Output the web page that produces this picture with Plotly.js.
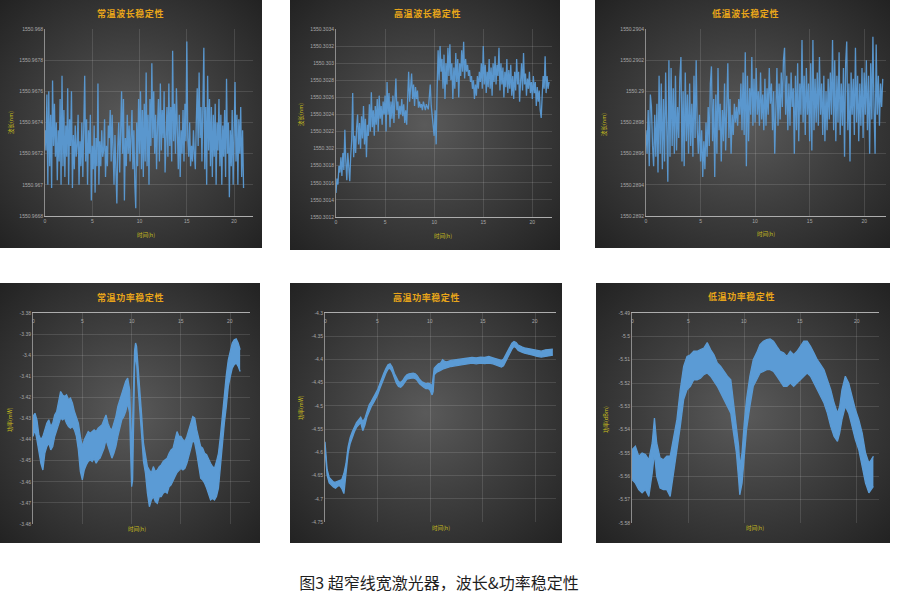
<!DOCTYPE html>
<html>
<head>
<meta charset="utf-8">
<script src="https://cdn.plot.ly/plotly-3.0.1.min.js"></script>
<style>
  html, body { margin:0; padding:0; background:#ffffff; }
  body { width:897px; height:602px; position:relative; overflow:hidden; font-family:"Noto Sans CJK SC", "Noto Sans", sans-serif; }
  .panel { position:absolute; background: radial-gradient(ellipse farthest-corner at 50% 50%, #5a5a5a 0%, #3e3e3e 48%, #222222 100%); }
  #caption { position:absolute; left:0; width:878px; top:570px; text-align:center; font-size:16px; color:#1e1e1e; font-family:"Noto Sans CJK SC", sans-serif; }
</style>
</head>
<body>
<div id="p1" class="panel" style="left:0px;top:0px;width:262px;height:248px"></div>
<div id="p2" class="panel" style="left:290px;top:0px;width:270px;height:250px"></div>
<div id="p3" class="panel" style="left:595px;top:0px;width:295px;height:248px"></div>
<div id="p4" class="panel" style="left:0px;top:283px;width:260px;height:260px"></div>
<div id="p5" class="panel" style="left:290px;top:283px;width:272px;height:260px"></div>
<div id="p6" class="panel" style="left:596px;top:283px;width:294px;height:260px"></div>
<div id="caption">图3 超窄线宽激光器，波长&amp;功率稳定性</div>
<script>
// ---------------- DATA ----------------
const X_TICKS = [0, 5, 10, 15, 20];
const X_TICK_TEXT = ["0", "5", "10", "15", "20"];

// sampling times (h) for the wavelength records
const HOURS_W = [
0,0.1,0.2,0.3,0.4,0.5,0.6,0.7,0.8,0.9,
1,1.1,1.2,1.3,1.4,1.5,1.6,1.7,1.8,1.9,
2,2.1,2.2,2.3,2.4,2.5,2.6,2.7,2.8,2.9,
3,3.1,3.2,3.3,3.4,3.5,3.6,3.7,3.8,3.9,
4,4.1,4.2,4.3,4.4,4.5,4.6,4.7,4.8,4.9,
5,5.1,5.2,5.3,5.4,5.5,5.6,5.7,5.8,5.9,
6,6.1,6.2,6.3,6.4,6.5,6.6,6.7,6.8,6.9,
7,7.1,7.2,7.3,7.4,7.5,7.6,7.7,7.8,7.9,
8,8.1,8.2,8.3,8.4,8.5,8.6,8.7,8.8,8.9,
9,9.1,9.2,9.3,9.4,9.5,9.6,9.7,9.8,9.9,
10,10.1,10.2,10.3,10.4,10.5,10.6,10.7,10.8,10.9,
11,11.1,11.2,11.3,11.4,11.5,11.6,11.7,11.8,11.9,
12,12.1,12.2,12.3,12.4,12.5,12.6,12.7,12.8,12.9,
13,13.1,13.2,13.3,13.4,13.5,13.6,13.7,13.8,13.9,
14,14.1,14.2,14.3,14.4,14.5,14.6,14.7,14.8,14.9,
15,15.1,15.2,15.3,15.4,15.5,15.6,15.7,15.8,15.9,
16,16.1,16.2,16.3,16.4,16.5,16.6,16.7,16.8,16.9,
17,17.1,17.2,17.3,17.4,17.5,17.6,17.7,17.8,17.9,
18,18.1,18.2,18.3,18.4,18.5,18.6,18.7,18.8,18.9,
19,19.1,19.2,19.3,19.4,19.5,19.6,19.7,19.8,19.9,
20,20.1,20.2,20.3,20.4,20.5,20.6,20.7,20.8,20.9,
21,21.1,21.2,21.3,21.4,21.5,21.6,21.7];

// 常温波长 (nm)
const WL_ROOM = [
1550.96735,1550.96722,1550.96758,1550.96700,1550.96760,1550.96712,1550.96745,1550.96698,1550.96767,1550.96725,
1550.96752,1550.96718,1550.96740,1550.96703,1550.96735,1550.96715,1550.96755,1550.96700,1550.96770,1550.96712,
1550.96748,1550.96705,1550.96738,1550.96718,1550.96762,1550.96700,1550.96742,1550.96725,1550.96760,1550.96698,
1550.96732,1550.96710,1550.96738,1550.96718,1550.96725,1550.96745,1550.96700,1550.96728,1550.96712,1550.96740,
1550.96705,1550.96735,1550.96770,1550.96715,1550.96742,1550.96700,1550.96735,1550.96720,1550.96745,1550.96690,
1550.96725,1550.96710,1550.96738,1550.96695,1550.96730,1550.96712,1550.96765,1550.96700,1550.96728,1550.96712,
1550.96735,1550.96718,1550.96722,1550.96742,1550.96705,1550.96725,1550.96712,1550.96738,1550.96730,1550.96748,
1550.96715,1550.96745,1550.96720,1550.96700,1550.96732,1550.96715,1550.96688,1550.96725,1550.96740,1550.96708,
1550.96738,1550.96760,1550.96720,1550.96755,1550.96690,1550.96730,1550.96712,1550.96745,1550.96720,1550.96738,
1550.96715,1550.96728,1550.96748,1550.96710,1550.96735,1550.96700,1550.96685,1550.96740,1550.96712,1550.96755,
1550.96720,1550.96760,1550.96710,1550.96748,1550.96705,1550.96752,1550.96715,1550.96772,1550.96712,1550.96745,
1550.96700,1550.96755,1550.96725,1550.96778,1550.96730,1550.96760,1550.96720,1550.96745,1550.96710,1550.96738,
1550.96755,1550.96715,1550.96765,1550.96722,1550.96748,1550.96730,1550.96760,1550.96708,1550.96740,1550.96750,
1550.96718,1550.96765,1550.96725,1550.96750,1550.96715,1550.96786,1550.96728,1550.96752,1550.96720,1550.96762,
1550.96735,1550.96710,1550.96745,1550.96705,1550.96735,1550.96720,1550.96748,1550.96715,1550.96752,1550.96728,
1550.96792,1550.96730,1550.96718,1550.96740,1550.96712,1550.96725,1550.96715,1550.96735,1550.96720,1550.96710,
1550.96740,1550.96762,1550.96725,1550.96772,1550.96730,1550.96750,1550.96715,1550.96760,1550.96788,1550.96710,
1550.96750,1550.96700,1550.96770,1550.96722,1550.96755,1550.96712,1550.96750,1550.96705,1550.96745,1550.96718,
1550.96752,1550.96700,1550.96740,1550.96722,1550.96755,1550.96712,1550.96745,1550.96700,1550.96738,1550.96718,
1550.96748,1550.96705,1550.96768,1550.96720,1550.96740,1550.96692,1550.96735,1550.96712,1550.96748,1550.96700,
1550.96738,1550.96766,1550.96715,1550.96745,1550.96700,1550.96742,1550.96720,1550.96750,1550.96705,1550.96735,
1550.96698];

// 高温波长 (nm)
const WL_HOT = [
1550.30148,1550.30165,1550.30158,1550.30180,1550.30172,1550.30190,1550.30168,1550.30195,1550.30175,1550.30222,
1550.30185,1550.30163,1550.30195,1550.30178,1550.30162,1550.30192,1550.30210,1550.30265,1550.30190,1550.30215,
1550.30195,1550.30225,1550.30240,1550.30205,1550.30230,1550.30200,1550.30238,1550.30212,1550.30250,1550.30205,
1550.30235,1550.30190,1550.30228,1550.30215,1550.30252,1550.30220,1550.30266,1550.30225,1550.30245,1550.30215,
1550.30250,1550.30228,1550.30258,1550.30220,1550.30262,1550.30235,1550.30250,1550.30228,1550.30255,1550.30240,
1550.30262,1550.30220,1550.30278,1550.30240,1550.30265,1550.30225,1550.30255,1550.30235,1550.30262,1550.30230,
1550.30268,1550.30282,1550.30245,1550.30255,1550.30235,1550.30250,1550.30240,1550.30258,1550.30238,1550.30252,
1550.30230,1550.30245,1550.30228,1550.30262,1550.30290,1550.30255,1550.30270,1550.30288,1550.30258,1550.30275,
1550.30250,1550.30272,1550.30258,1550.30268,1550.30248,1550.30255,1550.30248,1550.30252,1550.30245,1550.30255,
1550.30250,1550.30245,1550.30252,1550.30248,1550.30246,1550.30260,1550.30275,1550.30250,1550.30240,1550.30225,
1550.30215,1550.30245,1550.30205,1550.30270,1550.30315,1550.30280,1550.30320,1550.30290,1550.30305,1550.30270,
1550.30310,1550.30258,1550.30300,1550.30275,1550.30318,1550.30285,1550.30322,1550.30280,1550.30300,1550.30258,
1550.30295,1550.30270,1550.30312,1550.30278,1550.30305,1550.30260,1550.30300,1550.30285,1550.30315,1550.30290,
1550.30325,1550.30282,1550.30305,1550.30290,1550.30298,1550.30285,1550.30292,1550.30278,1550.30285,1550.30270,
1550.30280,1550.30258,1550.30275,1550.30262,1550.30285,1550.30270,1550.30290,1550.30278,1550.30300,1550.30270,
1550.30320,1550.30275,1550.30298,1550.30265,1550.30290,1550.30272,1550.30305,1550.30270,1550.30295,1550.30262,
1550.30300,1550.30278,1550.30308,1550.30275,1550.30298,1550.30285,1550.30318,1550.30268,1550.30300,1550.30275,
1550.30295,1550.30260,1550.30290,1550.30272,1550.30305,1550.30265,1550.30292,1550.30270,1550.30298,1550.30262,
1550.30285,1550.30258,1550.30290,1550.30268,1550.30305,1550.30275,1550.30290,1550.30255,1550.30280,1550.30300,
1550.30268,1550.30312,1550.30275,1550.30288,1550.30262,1550.30282,1550.30270,1550.30290,1550.30265,1550.30278,
1550.30258,1550.30285,1550.30265,1550.30278,1550.30250,1550.30272,1550.30255,1550.30268,1550.30245,1550.30236,
1550.30262,1550.30285,1550.30270,1550.30308,1550.30265,1550.30285,1550.30270,1550.30278];

// 低温波长 (nm)
const WL_COLD = [
1550.28975,1550.28960,1550.28988,1550.28952,1550.28998,1550.28990,1550.28965,1550.28952,1550.28985,1550.28958,
1550.28992,1550.28948,1550.29010,1550.28960,1550.29005,1550.28950,1550.28995,1550.28955,1550.29012,1550.28968,
1550.28942,1550.29020,1550.28958,1550.29015,1550.28965,1550.29002,1550.28960,1550.29010,1550.28962,1550.28990,
1550.28970,1550.29008,1550.29022,1550.28955,1550.29000,1550.28952,1550.29012,1550.28968,1550.28998,1550.28960,
1550.29005,1550.28965,1550.28992,1550.28958,1550.29010,1550.28970,1550.29020,1550.28975,1550.28960,1550.28985,
1550.28955,1550.28975,1550.28945,1550.28968,1550.28950,1550.28980,1550.28958,1550.28990,1550.28965,1550.29005,
1550.29016,1550.28968,1550.28995,1550.28945,1550.28998,1550.28960,1550.29015,1550.28975,1550.28992,1550.28955,
1550.28988,1550.28968,1550.29005,1550.28962,1550.29000,1550.29018,1550.28970,1550.28995,1550.28960,1550.28985,
1550.28972,1550.28992,1550.28980,1550.28990,1550.28978,1550.28995,1550.28985,1550.29005,1550.28975,1550.29012,
1550.28972,1550.29025,1550.28952,1550.29010,1550.28968,1550.29002,1550.28985,1550.29022,1550.28978,1550.29008,
1550.28980,1550.29015,1550.28985,1550.29000,1550.28978,1550.29012,1550.28982,1550.28998,1550.28975,1550.29008,
1550.28978,1550.29002,1550.28985,1550.29015,1550.28992,1550.29005,1550.28975,1550.29000,1550.28960,1550.28995,
1550.29015,1550.28978,1550.29005,1550.28982,1550.29012,1550.28990,1550.29020,1550.29028,1550.28985,1550.29010,
1550.28975,1550.29005,1550.28978,1550.29012,1550.28990,1550.29002,1550.28960,1550.29010,1550.28975,1550.29018,
1550.28968,1550.29005,1550.28985,1550.29033,1550.28980,1550.29010,1550.28972,1550.29015,1550.28985,1550.29005,
1550.28968,1550.29018,1550.28962,1550.29033,1550.28975,1550.29008,1550.28980,1550.29012,1550.28978,1550.29022,
1550.28985,1550.29005,1550.28972,1550.29010,1550.28968,1550.29000,1550.28975,1550.29008,1550.28982,1550.29012,
1550.28985,1550.29033,1550.28975,1550.29020,1550.28968,1550.29010,1550.28980,1550.29025,1550.28972,1550.29005,
1550.28978,1550.29015,1550.28958,1550.29018,1550.29032,1550.28975,1550.29005,1550.28955,1550.29012,1550.28985,
1550.29008,1550.28972,1550.29028,1550.28980,1550.29010,1550.28968,1550.29005,1550.28978,1550.29015,1550.28970,
1550.29012,1550.28985,1550.29020,1550.28975,1550.29010,1550.28960,1550.29018,1550.28982,1550.29035,1550.28990,
1550.28960,1550.29030,1550.28985,1550.29010,1550.28978,1550.29005,1550.28990,1550.29008];

// 常温功率: band upper / lower edges
const PW_ROOM_T = [0,0.2,0.4,0.6,0.8,1,1.2,1.4,1.6,1.8,2,2.2,2.4,2.6,2.8,3,3.2,3.4,3.6,3.8,4,4.2,4.4,4.6,4.8,5,5.2,5.4,5.6,5.8,6,6.2,6.4,6.6,6.8,7,7.2,7.4,7.6,7.8,8,8.2,8.4,8.6,8.8,9,9.2,9.4,9.6,9.8,
9.9,10,10.1,10.2,10.3,10.4,10.5,10.6,
10.8,11,11.2,11.4,11.6,11.8,12,12.2,12.4,12.6,12.8,13,13.2,13.4,13.6,13.8,14,14.2,14.4,14.6,14.8,15,15.2,15.4,15.6,15.8,16,16.2,16.4,16.6,16.8,17,17.2,17.4,17.6,17.8,18,18.2,18.4,18.6,18.8,19,19.2,19.4,19.6,19.8,20,20.2,20.4,20.6,20.8,21];
const PW_ROOM_HI = [
-3.4291,-3.4275,-3.4306,-3.4378,-3.4401,-3.4385,-3.4354,-3.4322,-3.4306,-3.4338,
-3.4322,-3.4283,-3.4267,-3.4227,-3.4172,-3.4188,-3.4196,-3.4188,-3.4211,-3.4203,
-3.4227,-3.4267,-3.4291,-3.4322,-3.4385,-3.4433,-3.4401,-3.4378,-3.4362,-3.4370,
-3.4362,-3.4354,-3.4362,-3.4346,-3.4338,-3.4330,-3.4306,-3.4283,-3.4322,-3.4346,
-3.4354,-3.4322,-3.4291,-3.4243,-3.4211,-3.4180,-3.4148,-3.4124,-3.4108,-3.4164,
-3.4306,-3.4465,-3.4322,-3.4085,-3.3978,-3.3942,-3.3958,-3.4022,
-3.4132,-3.4275,-3.4417,-3.4480,-3.4528,-3.4544,-3.4559,-3.4528,-3.4551,-3.4544,
-3.4528,-3.4520,-3.4504,-3.4496,-3.4488,-3.4465,-3.4449,-3.4441,-3.4401,-3.4362,
-3.4385,-3.4385,-3.4401,-3.4409,-3.4385,-3.4346,-3.4322,-3.4291,-3.4298,-3.4354,
-3.4401,-3.4433,-3.4441,-3.4465,-3.4472,-3.4496,-3.4512,-3.4528,-3.4536,-3.4504,
-3.4465,-3.4385,-3.4275,-3.4180,-3.4093,-3.4022,-3.3974,-3.3942,-3.3927,-3.3923,
-3.3942,-3.3974];
const PW_ROOM_LO = [
-3.4385,-3.4354,-3.4401,-3.4465,-3.4512,-3.4544,-3.4465,-3.4433,-3.4417,-3.4449,
-3.4433,-3.4385,-3.4354,-3.4322,-3.4298,-3.4306,-3.4298,-3.4322,-3.4338,-3.4346,
-3.4338,-3.4354,-3.4385,-3.4449,-3.4551,-3.4591,-3.4544,-3.4520,-3.4504,-3.4496,
-3.4504,-3.4488,-3.4512,-3.4496,-3.4488,-3.4465,-3.4441,-3.4401,-3.4433,-3.4465,
-3.4488,-3.4465,-3.4433,-3.4385,-3.4338,-3.4306,-3.4291,-3.4267,-3.4227,-3.4275,
-3.4465,-3.4623,-3.4591,-3.4275,-3.4053,-3.4014,-3.4030,-3.4116,
-3.4227,-3.4370,-3.4504,-3.4559,-3.4654,-3.4718,-3.4686,-3.4670,-3.4694,-3.4702,
-3.4670,-3.4670,-3.4654,-3.4647,-3.4654,-3.4623,-3.4615,-3.4591,-3.4575,-3.4556,
-3.4544,-3.4536,-3.4544,-3.4536,-3.4512,-3.4480,-3.4441,-3.4401,-3.4417,-3.4465,
-3.4536,-3.4583,-3.4591,-3.4607,-3.4630,-3.4662,-3.4686,-3.4678,-3.4686,-3.4670,
-3.4630,-3.4528,-3.4417,-3.4322,-3.4243,-3.4148,-3.4101,-3.4061,-3.4045,-3.4037,
-3.4053,-3.4077];

// 高温功率
const PW_HOT_T = [0,0.1,0.2,0.4,0.6,0.8,1,1.2,1.4,1.6,1.8,2,2.2,2.4,2.6,2.8,3,3.2,3.4,3.6,3.8,4,4.2,4.4,4.6,4.8,5,5.2,5.4,5.6,5.8,6,6.2,6.4,6.6,6.8,7,7.2,7.4,7.6,7.8,8,8.2,8.4,8.6,8.8,9,9.2,9.4,9.6,9.8,10,10.2,10.3,10.4,10.6,10.8,11,11.2,11.4,11.6,12,12.4,12.8,13.2,13.6,14,14.4,14.8,15.2,15.6,16,16.4,16.8,17,17.2,17.4,17.6,17.8,18,18.2,18.4,18.6,18.8,19,19.4,19.8,20.2,20.6,21,21.4,21.7];
const PW_HOT_HI = [-4.5772,-4.6096,-4.6369,-4.6542,-4.6600,-4.6636,-4.6643,-4.6622,-4.6600,-4.6586,-4.6456,-4.6240,-4.5880,-4.5678,-4.5556,-4.5448,-4.5361,-4.5304,-4.5246,-4.5340,-4.5268,-4.5124,-4.4980,-4.4908,-4.4836,-4.4742,-4.4656,-4.4526,-4.4404,-4.4296,-4.4195,-4.4116,-4.4094,-4.4166,-4.4296,-4.4404,-4.4476,-4.4497,-4.4455,-4.4382,-4.4332,-4.4310,-4.4296,-4.4296,-4.4310,-4.4354,-4.4426,-4.4476,-4.4497,-4.4526,-4.4512,-4.4526,-4.4569,-4.4332,-4.4188,-4.4138,-4.4094,-4.4080,-4.4008,-4.4044,-4.4051,-4.4022,-4.4008,-4.3994,-4.3979,-4.3965,-4.3958,-4.3965,-4.3950,-4.3958,-4.3936,-4.3965,-4.3994,-4.4022,-4.3994,-4.3900,-4.3806,-4.3720,-4.3648,-4.3612,-4.3634,-4.3691,-4.3720,-4.3734,-4.3749,-4.3763,-4.3778,-4.3806,-4.3821,-4.3792,-4.3792,-4.3778];
const PW_HOT_LO = [-4.5916,-4.6240,-4.6492,-4.6657,-4.6708,-4.6744,-4.6773,-4.6729,-4.6715,-4.6780,-4.6888,-4.6384,-4.6024,-4.5808,-4.5664,-4.5556,-4.5462,-4.5419,-4.5361,-4.5534,-4.5412,-4.5232,-4.5102,-4.5016,-4.4944,-4.4858,-4.4771,-4.4641,-4.4512,-4.4404,-4.4296,-4.4210,-4.4188,-4.4267,-4.4397,-4.4512,-4.4584,-4.4598,-4.4555,-4.4483,-4.4426,-4.4411,-4.4404,-4.4397,-4.4411,-4.4454,-4.4526,-4.4570,-4.4598,-4.4627,-4.4620,-4.4656,-4.4764,-4.4692,-4.4332,-4.4282,-4.4267,-4.4238,-4.4210,-4.4195,-4.4181,-4.4152,-4.4138,-4.4123,-4.4109,-4.4094,-4.4080,-4.4094,-4.4080,-4.4087,-4.4080,-4.4094,-4.4123,-4.4166,-4.4138,-4.4044,-4.3936,-4.3850,-4.3778,-4.3720,-4.3749,-4.3806,-4.3835,-4.3850,-4.3864,-4.3878,-4.3907,-4.3936,-4.3950,-4.3936,-4.3922,-4.3907];

// 低温功率
const PW_COLD_T = [0,0.3,0.6,0.9,1.2,1.5,1.8,2,2.2,2.5,2.8,3.1,3.4,3.7,4,4.3,4.6,4.9,5.2,5.5,5.8,6.1,6.4,6.7,7,7.3,7.6,7.9,8.2,8.5,8.8,9,9.3,9.5,9.6,9.8,10,10.2,10.5,10.8,11.1,11.4,11.7,12,12.3,12.6,12.9,13.2,13.5,13.8,14.1,14.4,14.7,15,15.3,15.6,15.9,16.2,16.5,16.8,17.1,17.4,17.7,18,18.3,18.5,18.7,19,19.3,19.6,19.9,20.2,20.5,20.8,21.1,21.3,21.5];
const PW_COLD_HI = [-5.5486,-5.5471,-5.5514,-5.5500,-5.5507,-5.5529,-5.5457,-5.5350,-5.5457,-5.5521,-5.5529,-5.5514,-5.5514,-5.5443,-5.5357,-5.5229,-5.5129,-5.5086,-5.5079,-5.5064,-5.5064,-5.5057,-5.5050,-5.5027,-5.5057,-5.5079,-5.5114,-5.5129,-5.5150,-5.5171,-5.5186,-5.5271,-5.5371,-5.5471,-5.5557,-5.5500,-5.5371,-5.5271,-5.5171,-5.5100,-5.5071,-5.5036,-5.5021,-5.5014,-5.5011,-5.5021,-5.5043,-5.5064,-5.5071,-5.5086,-5.5064,-5.5079,-5.5064,-5.5043,-5.5021,-5.5021,-5.5043,-5.5071,-5.5100,-5.5121,-5.5143,-5.5186,-5.5229,-5.5286,-5.5329,-5.5300,-5.5229,-5.5171,-5.5200,-5.5257,-5.5314,-5.5357,-5.5414,-5.5500,-5.5543,-5.5529,-5.5514];
const PW_COLD_LO = [-5.5614,-5.5629,-5.5657,-5.5671,-5.5657,-5.5686,-5.5586,-5.5500,-5.5600,-5.5650,-5.5657,-5.5657,-5.5686,-5.5586,-5.5500,-5.5386,-5.5271,-5.5229,-5.5214,-5.5186,-5.5186,-5.5179,-5.5164,-5.5157,-5.5171,-5.5193,-5.5214,-5.5243,-5.5271,-5.5300,-5.5329,-5.5400,-5.5500,-5.5614,-5.5679,-5.5629,-5.5514,-5.5400,-5.5300,-5.5214,-5.5186,-5.5157,-5.5150,-5.5143,-5.5143,-5.5150,-5.5171,-5.5193,-5.5214,-5.5214,-5.5200,-5.5214,-5.5200,-5.5186,-5.5171,-5.5157,-5.5171,-5.5200,-5.5229,-5.5257,-5.5286,-5.5329,-5.5386,-5.5429,-5.5450,-5.5414,-5.5357,-5.5300,-5.5329,-5.5386,-5.5443,-5.5486,-5.5557,-5.5629,-5.5671,-5.5657,-5.5643];

// axis ticks
const Y_TICKS_WL_ROOM = [1550.9668,1550.967,1550.9672,1550.9674,1550.9676,1550.9678,1550.968];
const Y_TEXT_WL_ROOM = ["1550.9668","1550.967","1550.9672","1550.9674","1550.9676","1550.9678","1550.968"];
const Y_TICKS_WL_HOT = [1550.3012,1550.3014,1550.3016,1550.3018,1550.302,1550.3022,1550.3024,1550.3026,1550.3028,1550.303,1550.3032,1550.3034];
const Y_TEXT_WL_HOT = ["1550.3012","1550.3014","1550.3016","1550.3018","1550.302","1550.3022","1550.3024","1550.3026","1550.3028","1550.303","1550.3032","1550.3034"];
const Y_TICKS_WL_COLD = [1550.2892,1550.2894,1550.2896,1550.2898,1550.29,1550.2902,1550.2904];
const Y_TEXT_WL_COLD = ["1550.2892","1550.2894","1550.2896","1550.2898","1550.29","1550.2902","1550.2904"];
const Y_TICKS_PW_ROOM = [-3.48,-3.47,-3.46,-3.45,-3.44,-3.43,-3.42,-3.41,-3.4,-3.39,-3.38];
const Y_TEXT_PW_ROOM = ["-3.48","-3.47","-3.46","-3.45","-3.44","-3.43","-3.42","-3.41","-3.4","-3.39","-3.38"];
const Y_TICKS_PW_HOT = [-4.75,-4.7,-4.65,-4.6,-4.55,-4.5,-4.45,-4.4,-4.35,-4.3];
const Y_TEXT_PW_HOT = ["-4.75","-4.7","-4.65","-4.6","-4.55","-4.5","-4.45","-4.4","-4.35","-4.3"];
const Y_TICKS_PW_COLD = [-5.58,-5.57,-5.56,-5.55,-5.54,-5.53,-5.52,-5.51,-5.5,-5.49];
const Y_TEXT_PW_COLD = ["-5.58","-5.57","-5.56","-5.55","-5.54","-5.53","-5.52","-5.51","-5.5","-5.49"];

// ---------------- STYLE ----------------
const BLUE = '#5b9bd5';
const GRID = 'rgba(255,255,255,0.12)';
const CJK = '"Noto Sans CJK SC", "Noto Sans", sans-serif';
const TICK_FONT = { family: '"Liberation Sans", Arial, sans-serif', size: 5, color: '#a8a8a8' };

function spaced(s) { return Array.from(s).join('\u200A'); }

function waveTraces(t, v) {
  return [{ x: t.slice(0, v.length), y: v, type: 'scatter', mode: 'lines',
            line: { color: BLUE, width: 1.3 }, opacity: 0.95, hoverinfo: 'skip' }];
}
function powerTraces(t, lo, hi) {
  return [
    { x: t, y: lo, type: 'scatter', mode: 'lines', line: { color: BLUE, width: 1.3 }, hoverinfo: 'skip' },
    { x: t, y: hi, type: 'scatter', mode: 'lines', fill: 'tonexty', fillcolor: BLUE,
      line: { color: BLUE, width: 1.3 }, hoverinfo: 'skip' }
  ];
}

function draw(p) {
  const pw = p.w - p.m.l - p.m.r, ph = p.h - p.m.t - p.m.b;
  const fx = x => (x - p.m.l) / pw;
  const fy = y => (p.h - p.m.b - y) / ph;
  const ann = [
    { text: spaced(p.title), x: fx(p.titlePos[0]), y: fy(p.titlePos[1]), xref: 'paper', yref: 'paper',
      showarrow: false, xanchor: 'center', yanchor: 'middle',
      font: { family: CJK, size: 9, color: '#e8a51a', weight: 'bold' } },
    { text: '时间(h)', x: fx(p.xtPos[0]), y: fy(p.xtPos[1]), xref: 'paper', yref: 'paper',
      showarrow: false, xanchor: 'center', yanchor: 'middle',
      font: { family: CJK, size: 5.5, color: '#c9bf1c' } },
    { text: p.ytitle, x: fx(p.ytPos[0]), y: fy(p.ytPos[1]), xref: 'paper', yref: 'paper',
      showarrow: false, xanchor: 'center', yanchor: 'middle', textangle: -90,
      font: { family: CJK, size: 5.5, color: '#c9bf1c' } }
  ];
  if (p.topAxis) {
    // x tick labels sit just under the top axis line, inside the plot
    X_TICKS.forEach((v, i) => ann.push({
      text: X_TICK_TEXT[i], x: v, xref: 'x', y: 1, yref: 'paper', yshift: -8,
      showarrow: false, xanchor: 'center', yanchor: 'middle', font: TICK_FONT
    }));
  }
  const layout = {
    width: p.w, height: p.h,
    margin: { l: p.m.l, r: p.m.r, t: p.m.t, b: p.m.b, pad: 0 },
    paper_bgcolor: 'rgba(0,0,0,0)', plot_bgcolor: 'rgba(0,0,0,0)',
    showlegend: false,
    font: { family: '"Liberation Sans", Arial, sans-serif' },
    xaxis: {
      range: [0, 22], tickvals: X_TICKS, ticktext: X_TICK_TEXT,
      side: p.topAxis ? 'top' : 'bottom', showticklabels: !p.topAxis,
      showline: true, linecolor: '#adadad', linewidth: 1,
      showgrid: true, gridcolor: GRID, gridwidth: 1, zeroline: false,
      ticks: '', tickfont: TICK_FONT, fixedrange: true
    },
    yaxis: {
      range: p.yr, tickvals: p.yt, ticktext: p.ytt,
      showline: true, linecolor: '#8c8c8c', linewidth: 1,
      showgrid: true, gridcolor: GRID, gridwidth: 1, zeroline: false,
      ticks: '', tickfont: TICK_FONT, fixedrange: true
    },
    annotations: ann
  };
  Plotly.newPlot(p.id, p.traces, layout, { staticPlot: true, displayModeBar: false });
}

const panels = [
  { id: 'p1', w: 262, h: 248, m: { l: 45, r: 9, t: 29, b: 32 }, title: '常温波长稳定性',
    titlePos: [130, 13], xtPos: [146, 235], ytPos: [11, 123], ytitle: '波长(nm)',
    yr: [1550.9668, 1550.968], yt: Y_TICKS_WL_ROOM, ytt: Y_TEXT_WL_ROOM, topAxis: false,
    traces: waveTraces(HOURS_W, WL_ROOM) },
  { id: 'p2', w: 270, h: 250, m: { l: 46, r: 8, t: 29, b: 33 }, title: '高温波长稳定性',
    titlePos: [137, 13], xtPos: [153, 236], ytPos: [11, 115], ytitle: '波长(nm)',
    yr: [1550.3012, 1550.3034], yt: Y_TICKS_WL_HOT, ytt: Y_TEXT_WL_HOT, topAxis: false,
    traces: waveTraces(HOURS_W, WL_HOT) },
  { id: 'p3', w: 295, h: 248, m: { l: 51, r: 4, t: 29, b: 32 }, title: '低温波长稳定性',
    titlePos: [150, 13], xtPos: [171, 234], ytPos: [9, 125], ytitle: '波长(nm)',
    yr: [1550.2892, 1550.2904], yt: Y_TICKS_WL_COLD, ytt: Y_TEXT_WL_COLD, topAxis: false,
    traces: waveTraces(HOURS_W, WL_COLD) },
  { id: 'p4', w: 260, h: 260, m: { l: 33, r: 10, t: 30, b: 19 }, title: '常温功率稳定性',
    titlePos: [130, 14], xtPos: [137, 246], ytPos: [10, 137], ytitle: '功率(mW)',
    yr: [-3.48, -3.38], yt: Y_TICKS_PW_ROOM, ytt: Y_TEXT_PW_ROOM, topAxis: true,
    traces: powerTraces(PW_ROOM_T, PW_ROOM_LO, PW_ROOM_HI) },
  { id: 'p5', w: 272, h: 260, m: { l: 35, r: 6, t: 30, b: 21 }, title: '高温功率稳定性',
    titlePos: [136, 14], xtPos: [151, 245], ytPos: [11, 125], ytitle: '功率(mW)',
    yr: [-4.75, -4.3], yt: Y_TICKS_PW_HOT, ytt: Y_TEXT_PW_HOT, topAxis: true,
    traces: powerTraces(PW_HOT_T, PW_HOT_LO, PW_HOT_HI) },
  { id: 'p6', w: 294, h: 260, m: { l: 36, r: 11, t: 30, b: 20 }, title: '低温功率稳定性',
    titlePos: [145, 13], xtPos: [159, 245], ytPos: [10, 137], ytitle: '功率(dBm)',
    yr: [-5.58, -5.49], yt: Y_TICKS_PW_COLD, ytt: Y_TEXT_PW_COLD, topAxis: true,
    traces: powerTraces(PW_COLD_T, PW_COLD_LO, PW_COLD_HI) }
];

panels.forEach(draw);
</script>
</body>
</html>
